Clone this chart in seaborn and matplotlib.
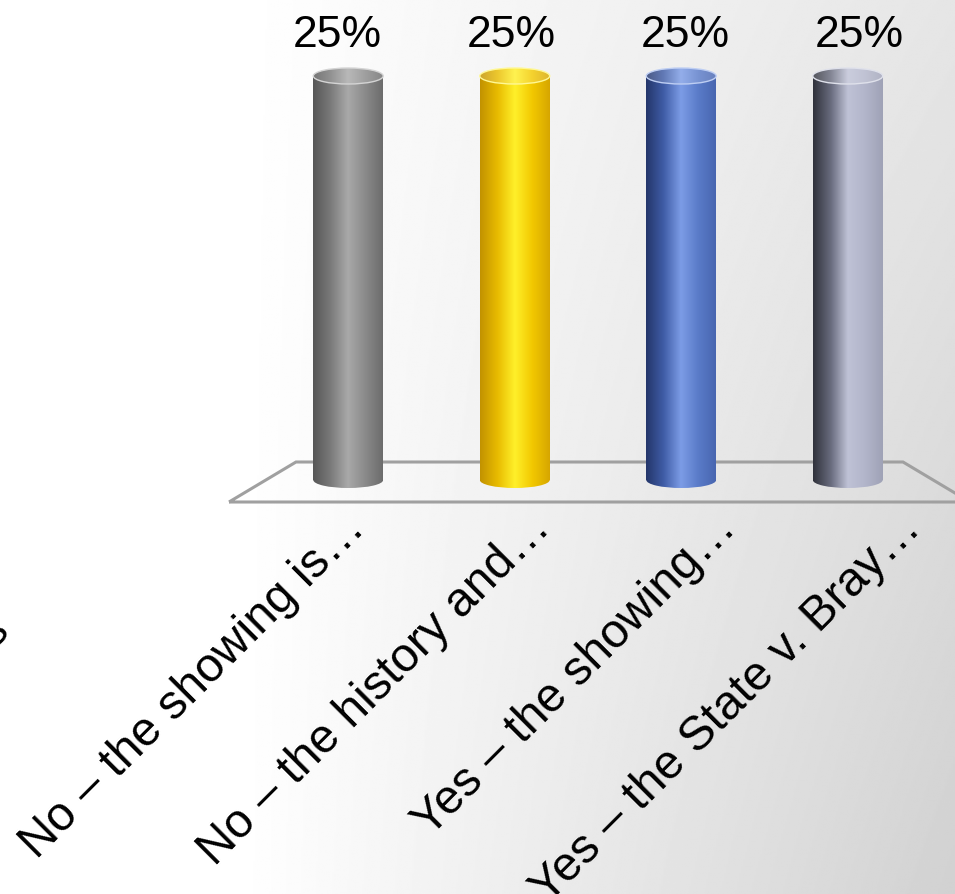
import numpy as np
import pandas as pd
import seaborn as sns
import matplotlib
matplotlib.use("Agg")
import matplotlib.pyplot as plt
from matplotlib.patches import Ellipse, Polygon
from matplotlib.colors import LinearSegmentedColormap, to_rgb

# ---------------- data ----------------
categories = ["No \u2013 the showing is\u2026",
              "No \u2013 the history and\u2026",
              "Yes \u2013 the showing\u2026",
              "Yes \u2013 the State v. Bray\u2026"]
values = [25, 25, 25, 25]
value_labels = [f"{v}%" for v in values]

# cylinder shading stops (left edge -> highlight -> right edge)
shade_stops = [
    ["#575757", "#7a7a7a", "#a9a9a9", "#8a8a8a", "#6c6c6c"],
    ["#c29200", "#e8bb00", "#fff02a", "#f2c800", "#d6a600"],
    ["#24366a", "#3f5ca6", "#7c9ce6", "#5a7bc8", "#4866b0"],
    ["#30323b", "#676a7c", "#bfc2d6", "#b2b5ca", "#9fa2b6"],
]
base_colors = ["#8a8a8a", "#f0c400", "#5a78c4", "#9a9db2"]

# perspective spread of the front (label) plane and the value-label plane
label_spread = 1.1126
value_spread = 1.045

# ---------------- style ----------------
sns.set_theme(style="white")
plt.rcParams["font.family"] = ["Liberation Sans", "DejaVu Sans"]

W, H = 955, 894
fig = plt.figure(figsize=(W / 100, H / 100), dpi=100)
fig.patch.set_facecolor("white")

# background gradient (white on the left, grey towards the right)
bg = fig.add_axes([0, 0, 1, 1], zorder=-10)
xx, yy = np.meshgrid(np.linspace(0, 1, 500), np.linspace(0, 1, 500))
t = np.clip((xx - 0.25) / 0.75, 0, 1)
g = 1.0 - (0.10 + 0.08 * yy) * t
bg.imshow(g, cmap="gray", vmin=0, vmax=1, extent=[0, 1, 0, 1],
          aspect="auto", origin="upper", interpolation="bilinear")
bg.set_axis_off()

# perspective floor
floor_px = [(229, 502), (296, 462), (903, 462), (970, 502)]
floor = Polygon([(x / W, 1 - y / H) for x, y in floor_px], closed=True,
                fill=False, edgecolor="#a0a0a0", lw=2.2,
                transform=fig.transFigure, zorder=-5)
fig.add_artist(floor)

# main axes
ax = fig.add_axes([265 / W, 1 - 500 / H, 666 / W, 480 / H])
ax.patch.set_alpha(0)
df = pd.DataFrame({"answer": categories, "pct": values})
sns.barplot(data=df, x="answer", y="pct", hue="answer", palette=base_colors,
            width=0.42, legend=False, saturation=1, ax=ax)

vmax = max(values)
px_per_unit = 404 / vmax
ylo, yhi = -20 / px_per_unit, 460 / px_per_unit
ax.set_xlim(-0.5, len(categories) - 0.5)
ax.set_ylim(ylo, yhi)
for s in ax.spines.values():
    s.set_visible(False)
ax.set_xticks([])
ax.set_yticks([])
ax.set_xlabel("")
ax.set_ylabel("")

cap_h = 16 / px_per_unit
grad = np.linspace(0, 1, 256)[None, :]
mid = (len(categories) - 1) / 2


def lighten(c, f):
    r = np.array(to_rgb(c))
    return tuple(r + (1 - r) * f)


for i, (patch, stops) in enumerate(zip(list(ax.patches), shade_stops)):
    x0, w, h = patch.get_x(), patch.get_width(), patch.get_height()
    cx = x0 + w / 2
    patch.set_facecolor("none")
    patch.set_edgecolor("none")
    cmap = LinearSegmentedColormap.from_list(f"cyl{i}", stops)
    cmap_cap = LinearSegmentedColormap.from_list(
        f"cap{i}", [lighten(c, 0.18) for c in stops])

    # rounded bottom
    bot = Ellipse((cx, 0), w, cap_h, facecolor="none", edgecolor="none")
    ax.add_patch(bot)
    im_b = ax.imshow(grad, cmap=cmap, extent=[x0, x0 + w, -cap_h, cap_h],
                     aspect="auto", zorder=2, interpolation="bilinear")
    im_b.set_clip_path(bot)

    # body
    im = ax.imshow(grad, cmap=cmap, extent=[x0, x0 + w, 0, h],
                   aspect="auto", zorder=2.1, interpolation="bilinear")
    im.set_clip_path(patch)

    # top cap
    top = Ellipse((cx, h), w, cap_h, facecolor="none",
                  edgecolor=lighten(stops[2], 0.5), lw=1.0, zorder=2.3)
    ax.add_patch(top)
    im_t = ax.imshow(grad, cmap=cmap_cap, extent=[x0, x0 + w, h - cap_h, h + cap_h],
                     aspect="auto", zorder=2.2, interpolation="bilinear")
    im_t.set_clip_path(top)

    # value label (slightly spread by perspective)
    vx = mid + (cx - mid) * value_spread
    ax.annotate(value_labels[i], xy=(vx, h), xytext=(0, 29),
                textcoords="offset pixels", ha="center", va="baseline",
                fontsize=32, color="black", annotation_clip=False)

    # category label (rotated, on the front edge of the floor)
    lx = mid + (cx - mid) * label_spread
    ax.annotate(categories[i], xy=(lx, 0), xytext=(47, -50),
                textcoords="offset pixels", ha="right", va="baseline",
                rotation=45, rotation_mode="anchor", fontsize=34.5,
                color="black", annotation_clip=False)

ax.set_xlim(-0.5, len(categories) - 0.5)
ax.set_ylim(ylo, yhi)

# clipped fragment at the far left edge
fig.text(-6 / W, 1 - 632 / H, "s", fontsize=33, rotation=45,
         ha="center", va="center", color="black")

fig.savefig("out.png", dpi=100)
